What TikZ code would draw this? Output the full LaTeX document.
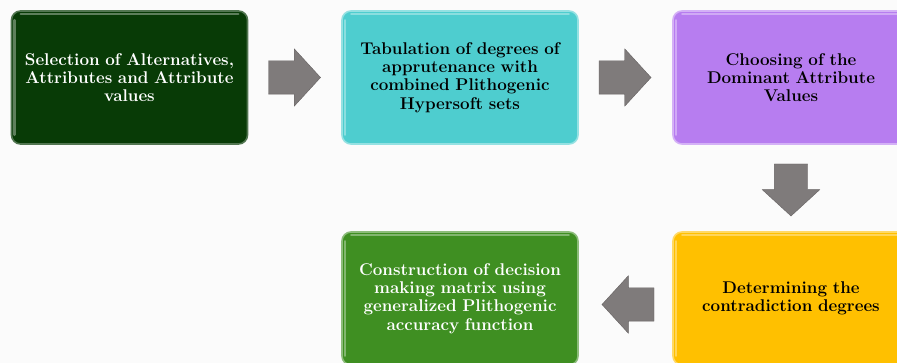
\documentclass[tikz,border=0pt]{standalone}
\usetikzlibrary{shapes.arrows,calc}
\definecolor{cA}{HTML}{083B06}
\definecolor{cB}{HTML}{4ECDCF}
\definecolor{cC}{HTML}{B77DF0}
\definecolor{cD}{HTML}{FFC000}
\definecolor{cE}{HTML}{3F8F22}
\definecolor{arr}{HTML}{7F7B7B}
\tikzset{
  x=1pt,y=1pt,
  stepbox/.style={rounded corners=9pt, minimum width=236pt, minimum height=133pt,
     inner sep=0pt, text width=228pt, align=center,
     font=\fontsize{17}{18.3}\selectfont\bfseries, line width=1.6pt},
  blockarrow/.style={single arrow, fill=arr, draw=arr!80!black, line width=0.4pt,
     minimum height=52pt, minimum width=57pt, single arrow head extend=12pt,
     single arrow tip angle=95, inner xsep=0pt, inner ysep=16.5pt, anchor=tail},
  gloss/.style={draw=white, draw opacity=0.35, line width=2.5pt, line cap=round},
}
\begin{document}
\begin{tikzpicture}
\useasboundingbox (0,0) rectangle (897,-363);
\clip (0,0) rectangle (897,-363);
\fill[white!97!gray] (0,0) rectangle (897,-363);
\node[stepbox, fill=cA, draw=cA!70!white, text=white] (b1) at (129.5,-77.5)
  {Selection of Alternatives,\\Attributes and Attribute\\values};
\node[stepbox, fill=cB, draw=cB!60!white, text=black] (b2) at (460,-77.5)
  {Tabulation of degrees of\\apprutenance with\\combined Plithogenic\\Hypersoft sets};
\node[stepbox, fill=cC, draw=cC!60!white, text=black] (b3) at (791,-77.5)
  {Choosing of the\\Dominant Attribute\\Values};
\node[stepbox, fill=cD, draw=cD!60!white, text=black] (b4) at (791,-298.5)
  {Determining the\\contradiction degrees};
\node[stepbox, fill=cE, draw=cE!60!white, text=white] (b5) at (460,-298.5)
  {Construction of decision\\making matrix using\\generalized Plithogenic\\accuracy function};
\foreach \b in {b1,b2,b3,b4,b5}{
  \draw[gloss] ($(\b.north west)+(10,-4)$) -- ($(\b.north east)+(-10,-4)$);
  \draw[gloss] ($(\b.south west)+(4,10)$) -- ($(\b.north west)+(4,-10)$);
}
\node[blockarrow] (a1) at ($(b1.east)+(20,0)$) {};
\node[blockarrow] (a2) at ($(b2.east)+(20,0)$) {};
\node[blockarrow, rotate=-90] (a3) at ($(b3.south)+(0,-19)$) {};
\node[blockarrow, rotate=180] (a4) at ($(b4.west)+(-18,-6)$) {};
\end{tikzpicture}
\end{document}
